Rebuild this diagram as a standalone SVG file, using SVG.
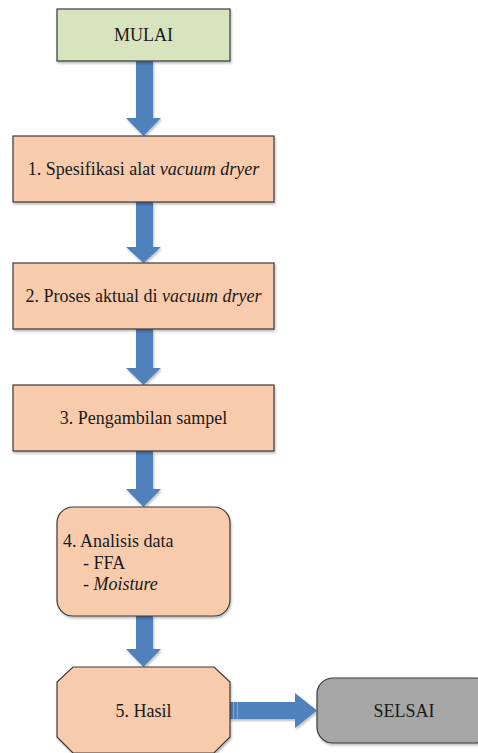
<svg xmlns="http://www.w3.org/2000/svg" width="478" height="753" viewBox="0 0 478 753">
<defs>
<filter id="sh" x="-10%" y="-10%" width="120%" height="130%">
<feDropShadow dx="1" dy="2" stdDeviation="1.2" flood-color="#000" flood-opacity="0.25"/>
</filter>
<style>
.box{fill:#f8cbad;stroke:#3a3a3a;stroke-width:1.2;filter:url(#sh)}
.start{fill:#d7e4bd;stroke:#3a3a3a;stroke-width:1.2;filter:url(#sh)}
.end{fill:#a6a6a6;stroke:#3a3a3a;stroke-width:1.2;filter:url(#sh)}
.arr{fill:#4f81bd;filter:url(#sh)}
text{font-family:"Liberation Serif","Times New Roman",serif;font-size:18px;fill:#1a1a1a}
.c{text-anchor:middle}
.i{font-style:italic}
</style>
</defs>
<g id="connectors">
<polygon class="arr" points="136,61 153,61 153,118 161,118 143.5,136 126,118 136,118"/>
<polygon class="arr" points="136,202 153,202 153,247 161,247 143.5,263 126,247 136,247"/>
<polygon class="arr" points="136,329 153,329 153,368 161,368 143.5,385 126,368 136,368"/>
<polygon class="arr" points="136,451 153,451 153,489 161,489 143.5,507 126,489 136,489"/>
<polygon class="arr" points="136,616 153,616 153,649 161,649 143.5,667 126,649 136,649"/>
<polygon class="arr" points="230,702 295,702 295,693 317,710.5 295,728 295,719 230,719"/>
<line x1="233.5" y1="702" x2="233.5" y2="719" stroke="#8fb0d8" stroke-width="0.8"/>
<line x1="237.5" y1="702" x2="237.5" y2="719" stroke="#8fb0d8" stroke-width="0.8"/>
</g>
<g id="mulai">
<rect class="start" x="57" y="9" width="173" height="52"/>
<text class="c" x="143.5" y="41">MULAI</text>
</g>
<g id="step1">
<rect class="box" x="13" y="136" width="261" height="66"/>
<text class="c" x="143.5" y="175">1. Spesifikasi alat <tspan class="i">vacuum dryer</tspan></text>
</g>
<g id="step2">
<rect class="box" x="13" y="263" width="261" height="66"/>
<text class="c" x="143.5" y="302">2. Proses aktual di <tspan class="i">vacuum dryer</tspan></text>
</g>
<g id="step3">
<rect class="box" x="13" y="385" width="261" height="66"/>
<text class="c" x="143.5" y="424">3. Pengambilan sampel</text>
</g>
<g id="step4">
<rect class="box" x="57" y="507" width="173" height="109" rx="16" ry="16"/>
<text x="63" y="547">4. Analisis data</text>
<text x="83" y="569">- FFA</text>
<text x="83" y="590">- <tspan class="i">Moisture</tspan></text>
</g>
<g id="step5">
<polygon class="box" points="73,667 214,667 230,682 230,737 214,753 73,753 57,737 57,682"/>
<text class="c" x="143.5" y="717">5. Hasil</text>
</g>
<g id="selsai">
<rect class="end" x="317" y="678" width="175" height="65" rx="16" ry="16"/>
<text class="c" x="404" y="717">SELSAI</text>
</g>
</svg>
